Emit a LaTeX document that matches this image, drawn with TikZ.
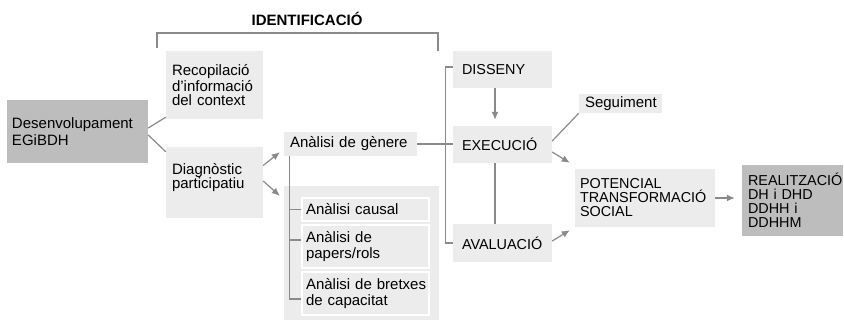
\documentclass[tikz,border=0pt]{standalone}
\usepackage{fontspec}
\setmainfont{Liberation Sans}
\usetikzlibrary{arrows.meta}
\definecolor{boxgray}{HTML}{ECECEC}
\definecolor{darkgray}{HTML}{BDBDBD}
\definecolor{linegray}{HTML}{8A8A8A}

\begin{document}
\begin{tikzpicture}[x=1bp,y=-1bp,
  box/.style={fill=boxgray,align=left,inner xsep=6bp,inner ysep=0bp,
    font=\fontsize{15bp}{14bp}\selectfont},
  capsbox/.style={box,font=\fontsize{14.4bp}{14bp}\selectfont},
  dark/.style={box,fill=darkgray},
  subbox/.style={box,draw=white,line width=2bp,text width=119bp,inner xsep=4bp,
    font=\fontsize{15bp}{16bp}\selectfont},
  line/.style={draw=linegray,line width=1.2bp},
  arrow/.style={line,-{Latex[length=8bp,width=7bp]}}]
 \useasboundingbox (0,0) rectangle (844,320);
 % identificacio
 \node[anchor=base,font=\fontsize{15bp}{15bp}\selectfont\bfseries] (ident) at (307,25) {IDENTIFICACIÓ};
 \coordinate (bl) at (157,48);
 \coordinate (br) at (438,51);
 \draw[line] (bl) -- (157,33) -- (438,33) -- (br);
 % left part
 \node[dark,text width=131bp,minimum height=63bp,inner xsep=5bp,font=\fontsize{15bp}{16.5bp}\selectfont] (desen) at (77.5,131.5) {Desenvolupament\\EGiBDH};
 \node[box,text width=85bp,minimum height=68bp] (recop) at (214.5,85) {Recopilació\\d’informació\\del context};
 \node[box,text width=85bp,minimum height=71bp] (diag) at (214.5,182.5) {Diagnòstic\\participatiu\\~};
 \node[box,text width=121bp,minimum height=24bp] (genere) at (350.5,144) {Anàlisi de gènere};
 \node[fill=boxgray,minimum width=155bp,minimum height=134bp,inner sep=0pt] (cont) at (361.5,253) {};
 \node[subbox,minimum height=23bp] (causal) at (365.5,209.5) {Anàlisi causal};
 \node[subbox,minimum height=43bp] (papers) at (365.5,246.5) {Anàlisi de\\papers/rols};
 \node[subbox,minimum height=43bp] (bretxes) at (365.5,293.5) {\mbox{Anàlisi de bretxes}\\de capacitat};
 % phases
 \node[capsbox,text width=81bp,minimum height=37bp,inner xsep=9bp] (disseny) at (502.5,69.5) {DISSENY};
 \node[capsbox,text width=81bp,minimum height=37bp,inner xsep=9bp] (execucio) at (502.5,144.5) {EXECUCIÓ};
 \node[capsbox,text width=81bp,minimum height=38bp,inner xsep=9bp] (avaluacio) at (502.5,243) {AVALUACIÓ};
 \node[box,text width=71bp,minimum height=19bp] (seguiment) at (620.5,103.5) {Seguiment};
 \node[capsbox,text width=130bp,minimum height=58bp,inner xsep=5bp] (potencial) at (645,198) {POTENCIAL\\TRANSFORMACIÓ\\SOCIAL};
 \node[dark,text width=89bp,minimum height=71bp,font=\fontsize{14.4bp}{14bp}\selectfont] (realitz) at (792.5,200.5) {REALITZACIÓ\\DH i DHD\\DDHH i\\DDHHM};
 % connectors
 \draw[line] ([yshift=3.5bp]desen.east) -- ([yshift=2bp]recop.south west);
 \draw[line] ([yshift=-3.5bp]desen.east) -- ([yshift=-5bp]diag.north west);
 \draw[arrow] ([yshift=17bp]diag.east) -- ([xshift=-4bp,yshift=4bp]genere.south west);
 \draw[arrow] ([yshift=1.5bp]diag.east) -- ([xshift=-4bp,yshift=-10bp]cont.north west);
 \draw[line] ([xshift=6bp]genere.south west) |- ([yshift=-5.5bp]bretxes.west);
 \draw[line] (causal.west) -- ++(-12bp,0);
 \draw[line] ([yshift=6.5bp]papers.west) -- ++(-12bp,0);
 \draw[line] (genere.east) -- (genere.east -| execucio.west);
 \draw[line] ([yshift=2.5bp]disseny.west) -- ++(-7bp,0) |- (avaluacio.west);
 \draw[arrow,shorten >=6bp] ([xshift=-7.5bp]disseny.south) -- ([xshift=-7.5bp]execucio.north);
 \draw[line] ([xshift=-7.5bp]execucio.south) -- ([xshift=-7.5bp]avaluacio.north);
 \draw[line] ([yshift=3.5bp]execucio.east) -- (seguiment.south west);
 \draw[arrow] ([yshift=-7.5bp]execucio.east) -- ([xshift=-5bp,yshift=6bp]potencial.north west);
 \draw[arrow] ([yshift=2bp]avaluacio.east) -- ([xshift=-5bp,yshift=-3bp]potencial.south west);
 \draw[arrow,shorten >=7bp] (potencial.east) -- (realitz.west |- potencial.east);
\end{tikzpicture}
\end{document}
